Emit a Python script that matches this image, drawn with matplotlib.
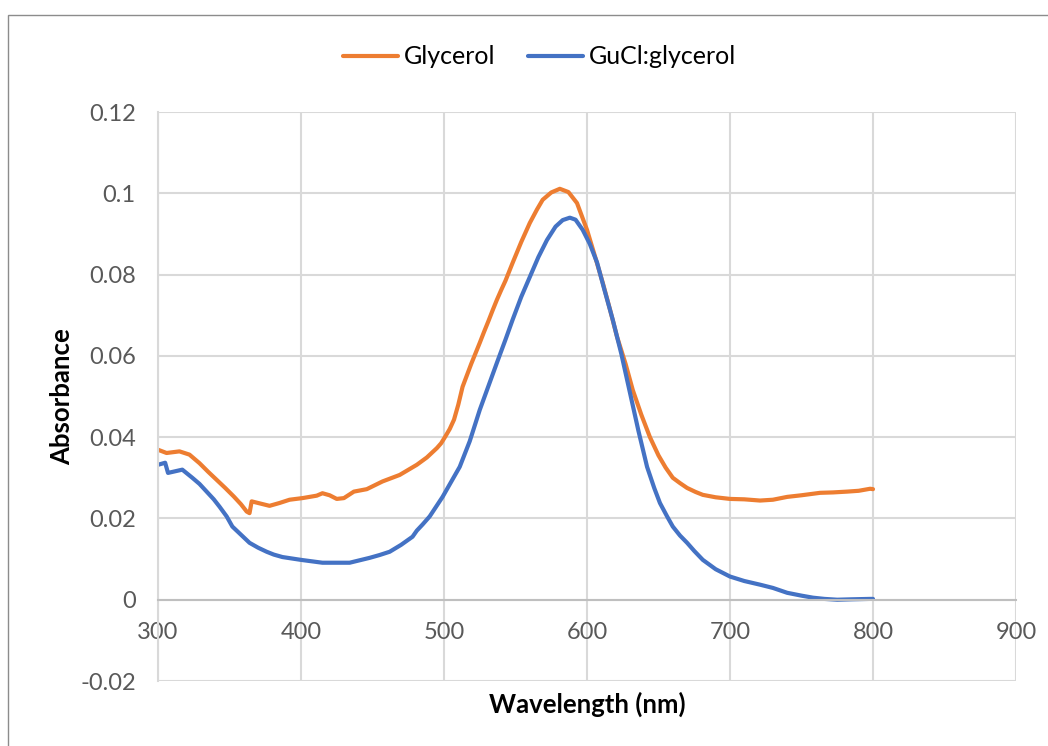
import matplotlib.pyplot as plt
from matplotlib.patches import Rectangle
import numpy as np

# Glycerol spectrum
gly_wl = [300, 306, 315, 322, 329, 335, 341, 347, 353, 358, 362, 364, 365.5, 370, 378, 385, 392,
          401, 411, 415, 420, 425, 430, 437, 446, 457, 469, 481, 488, 495, 498, 501, 504, 507,
          510, 513, 516, 519, 522, 525, 528, 531, 534, 537, 540, 543, 548, 554, 560, 565, 569,
          575, 581, 587, 593, 600, 606, 611, 616, 621, 627, 632, 638, 644, 650, 655, 660, 665,
          670, 676, 681, 690, 700, 710, 721, 730, 740, 750, 763, 772, 782, 790, 798, 800]
gly_abs = [0.0369, 0.0361, 0.0365, 0.0357, 0.0336, 0.0315, 0.0295, 0.0275, 0.0254, 0.0235, 0.0217,
           0.0213, 0.0242, 0.0238, 0.0231, 0.0238, 0.0246, 0.025, 0.0256, 0.0262, 0.0257, 0.0248,
           0.025, 0.0266, 0.0272, 0.0291, 0.0307, 0.0332, 0.0350, 0.0373, 0.0385, 0.0402, 0.0420,
           0.0443, 0.0480, 0.0524, 0.0552, 0.0580, 0.0606, 0.0632, 0.0659, 0.0685, 0.0712, 0.0738,
           0.0762, 0.0785, 0.0829, 0.0880, 0.0927, 0.0960, 0.0984, 0.1002, 0.1011, 0.1003, 0.0976,
           0.0910, 0.0840, 0.0780, 0.0715, 0.0647, 0.0580, 0.0516, 0.0455, 0.0400, 0.0355, 0.0325,
           0.0300, 0.0287, 0.0275, 0.0265, 0.0258, 0.0252, 0.0248, 0.0247, 0.0244, 0.0246, 0.0253,
           0.0257, 0.0263, 0.0264, 0.0266, 0.0268, 0.0273, 0.0272]

# GuCl:glycerol spectrum
gu_wl = [300, 305, 307, 312, 317, 324, 329, 334, 339, 343, 348, 352, 358, 364, 370, 376, 381, 387,
         400, 415, 434, 448, 455, 462, 470, 478, 481, 485, 490, 499, 505, 511, 518, 525, 531,
         537, 543, 548, 554, 560, 566, 572, 578, 583, 588, 592, 597, 602, 607, 612, 618, 624,
         630, 636, 642, 647, 651, 656, 660, 665, 670, 675, 681, 690, 700, 710, 721, 730, 740,
         750, 758, 766, 775, 785, 798, 800]
gu_abs = [0.0332, 0.0337, 0.0312, 0.0316, 0.0320, 0.0300, 0.0285, 0.0266, 0.0247, 0.0229, 0.0205,
          0.0180, 0.0160, 0.0140, 0.0128, 0.0118, 0.0111, 0.0105, 0.0098, 0.0091, 0.0091, 0.0103,
          0.0110, 0.0118, 0.0135, 0.0155, 0.0170, 0.0185, 0.0205, 0.0253, 0.0290, 0.0327, 0.0390,
          0.0467, 0.0525, 0.0583, 0.0640, 0.0689, 0.0745, 0.0794, 0.0843, 0.0885, 0.0918, 0.0934,
          0.0940, 0.0935, 0.0910, 0.0875, 0.0830, 0.0765, 0.0689, 0.0605, 0.0510, 0.0415, 0.0327,
          0.0275, 0.0238, 0.0205, 0.0180, 0.0158, 0.0140, 0.0120, 0.0098, 0.0075, 0.0057, 0.0046,
          0.0037, 0.0029, 0.0017, 0.0010, 0.0005, 0.0002, 0.0000, 0.0001, 0.0002, 0.0002]

xticks = [300, 400, 500, 600, 700, 800, 900]
yticks = [-0.02, 0, 0.02, 0.04, 0.06, 0.08, 0.1, 0.12]

plt.rcParams['font.family'] = ['Lato', 'DejaVu Sans']

fig = plt.figure(figsize=(10.48, 7.46), dpi=100)
ax = fig.add_axes([158 / 1048, 1 - 681 / 746, (1016 - 158) / 1048, (681 - 112) / 746])

grid_c = '#d9d9d9'
ax.set_xlim(300, 900)
ax.set_ylim(-0.02, 0.12)
ax.set_xticks(xticks)
ax.set_yticks(yticks)
ax.set_xticklabels([str(v) for v in xticks])
ax.set_yticklabels([f'{v:g}' for v in yticks])
ax.grid(True, color=grid_c, linewidth=1.5)
ax.set_axisbelow(True)

for s in ['top', 'right']:
    ax.spines[s].set_visible(False)
ax.spines['left'].set_color(grid_c)
ax.spines['left'].set_linewidth(1.5)
ax.spines['bottom'].set_position(('data', 0))
ax.spines['bottom'].set_color('#bfbfbf')
ax.spines['bottom'].set_linewidth(1.5)
ax.tick_params(axis='both', length=0, labelsize=17, labelcolor='#595959')
ax.tick_params(axis='x', pad=16)
ax.tick_params(axis='y', pad=16)

ax.plot(gly_wl, gly_abs, color='#ED7D31', linewidth=3, label='Glycerol',
        solid_capstyle='round', solid_joinstyle='round')
ax.plot(gu_wl, gu_abs, color='#4472C4', linewidth=3, label='GuCl:glycerol',
        solid_capstyle='round', solid_joinstyle='round')

fig.text(587 / 1048, 1 - 704 / 746, 'Wavelength (nm)', ha='center', va='center',
         fontsize=18.5, fontweight='bold', color='black')
fig.text(62 / 1048, 1 - 397 / 746, 'Absorbance', ha='center', va='center', rotation=90,
         fontsize=18.5, fontweight='bold', color='black')

fig.legend(loc='center', bbox_to_anchor=(0.515, 1 - 57 / 746), ncol=2, frameon=False,
           fontsize=18, handlelength=2.2, handletextpad=0.25, columnspacing=1.3)

fig.patches.append(Rectangle((8 / 1048, -0.01), 1.1, 1 - 15 / 746 + 0.01, transform=fig.transFigure,
                             fill=False, edgecolor='#8c8c8c', linewidth=1))

fig.savefig('out.png', dpi=100)
